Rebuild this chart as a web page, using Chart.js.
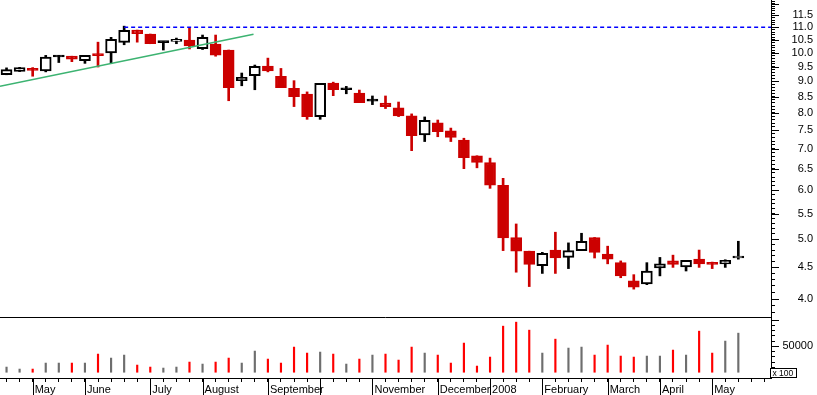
<!DOCTYPE html>
<html>
<head>
<meta charset="utf-8">
<script src="https://cdn.jsdelivr.net/npm/chart.js@4.4.1/dist/chart.umd.min.js"></script>
<style>
  html, body { margin: 0; padding: 0; background: #fff; }
  #wrap { width: 817px; height: 395px; }
</style>
</head>
<body>
<div id="wrap"><canvas id="stockChart"></canvas></div>
<script>
// weekly candles, April 2007 - May 2008
var opens  = [9.22, 9.34, 9.37, 9.35, 9.85, 9.88, 9.72, 9.90, 10.00, 10.40,
              10.89, 10.73, 10.39, 10.44, 10.49, 10.16, 10.34, 10.11, 9.02, 9.19,
              9.52, 9.17, 8.77, 8.58, 7.89, 8.94, 8.72, 8.61, 8.36, 8.30,
              8.15, 7.91, 7.37, 7.71, 7.48, 7.23, 6.82, 6.65, 6.11, 5.03,
              4.78, 4.53, 4.80, 4.67, 4.79, 5.03, 4.73, 4.58, 4.28, 4.23,
              4.49, 4.61, 4.51, 4.64, 4.58, 4.56, 4.66];
var highs  = [9.46, 9.48, 9.47, 9.91, 9.91, 9.88, 9.91, 10.41, 10.60, 11.05,
              10.89, 10.73, 10.43, 10.57, 10.96, 10.69, 10.69, 10.11, 9.28, 9.56,
              9.81, 9.44, 9.02, 8.65, 8.93, 8.97, 8.83, 8.71, 8.52, 8.52,
              8.33, 7.97, 7.88, 7.79, 7.56, 7.28, 6.82, 6.76, 6.27, 5.29,
              4.78, 4.76, 5.13, 4.93, 5.11, 5.03, 4.87, 4.61, 4.38, 4.58,
              4.67, 4.71, 4.62, 4.80, 4.59, 4.63, 4.96];
var lows   = [9.22, 9.33, 9.17, 9.32, 9.65, 9.68, 9.62, 9.49, 9.62, 10.31,
              10.41, 10.35, 10.11, 10.35, 10.15, 10.13, 9.88, 8.37, 8.85, 8.72,
              9.32, 8.79, 8.19, 7.81, 7.81, 8.53, 8.59, 8.31, 8.25, 8.13,
              7.89, 6.95, 7.19, 7.32, 7.19, 6.50, 6.52, 6.04, 4.79, 4.42,
              4.19, 4.40, 4.40, 4.48, 4.79, 4.66, 4.56, 4.33, 4.15, 4.22,
              4.36, 4.50, 4.44, 4.50, 4.48, 4.50, 4.64];
var closes = [9.40, 9.47, 9.37, 9.85, 9.85, 9.77, 9.91, 9.90, 10.52, 10.88,
              10.74, 10.35, 10.39, 10.52, 10.27, 10.60, 9.92, 8.79, 9.13, 9.51,
              9.35, 8.79, 8.50, 7.89, 8.93, 8.72, 8.72, 8.31, 8.36, 8.19,
              7.91, 7.35, 7.78, 7.46, 7.30, 6.77, 6.65, 6.11, 5.02, 4.78,
              4.55, 4.74, 4.66, 4.79, 4.96, 4.76, 4.64, 4.36, 4.18, 4.44,
              4.56, 4.55, 4.62, 4.56, 4.55, 4.62, 4.67];
// volume in hundreds of shares
var volumes = [10800, 7000, 7000, 18400, 18400, 18400, 18400, 35500, 27900, 33600,
               14600, 10800, 8900, 10800, 20300, 16500, 20300, 27900, 18400, 41200,
               26000, 18400, 48800, 37400, 39300, 35500, 16500, 26000, 33600, 35500,
               24100, 48800, 37400, 33600, 18400, 56400, 12700, 29800, 88600, 96200,
               81000, 37400, 63900, 46900, 48800, 33600, 52600, 31700, 29800, 31700,
               31700, 43100, 33600, 79100, 37400, 60200, 75300];

var slotCount = 59;  // 57 weeks plus two empty weeks at the right
var monthAt    = [2, 6, 11, 15, 20, 24, 28, 33, 37, 41, 46, 50, 54];
var monthNames = ['May', 'June', 'July', 'August', 'September', '', 'November',
                  'December', '2008', 'February', 'March', 'April', 'May'];
var priceLabels = [4.0, 4.5, 5.0, 5.5, 6.0, 6.5, 7.0, 7.5, 8.0, 8.5, 9.0, 9.5, 10.0, 10.5, 11.0, 11.5];
var resistance = 11.0;
var trendStart = {x: -0.5, y: 8.83};
var trendEnd   = {x: 18.9, y: 10.72};

var RED = '#cc0000';
var isDown = closes.map(function (c, i) { return i > 0 && c < closes[i - 1]; });

var slots = [];
for (var i = 0; i < slotCount; i++) slots.push(i);
var priceMinor = [];
for (var p = 38; p <= 121; p++) priceMinor.push(p / 10);
var volMinor = [];
for (var v = 0; v <= 100000; v += 10000) volMinor.push(v);

var axisFont = {family: 'Liberation Sans, Arial, sans-serif', size: 11};

var extraTicks = {
    id: 'extraTicks',
    afterDraw: function (chart) {
        var ctx = chart.ctx;
        var sx = chart.scales.x, sp = chart.scales.price, sv = chart.scales.vol;
        ctx.save();
        ctx.strokeStyle = '#000';
        ctx.lineWidth = 1;
        ctx.beginPath();
        monthAt.forEach(function (m) {
            var px = Math.round(sx.getPixelForValue(m)) + 0.5;
            ctx.moveTo(px, sx.top);
            ctx.lineTo(px, chart.height);
        });
        priceLabels.concat([12.0]).forEach(function (val) {
            var py = Math.round(sp.getPixelForValue(val)) + 0.5;
            ctx.moveTo(sp.left, py);
            ctx.lineTo(sp.left + 8, py);
        });
        [50000, 100000].forEach(function (val) {
            var py = Math.round(sv.getPixelForValue(val)) + 0.5;
            ctx.moveTo(sv.left, py);
            ctx.lineTo(sv.left + 8, py);
        });
        var sep = Math.round(sv.top) + 0.5;
        ctx.moveTo(chart.chartArea.left, sep);
        ctx.lineTo(sv.left, sep);
        ctx.stroke();

        // "x 100" unit box at the volume zero line
        var y0 = Math.round(sv.getPixelForValue(0));
        var bx = Math.round(sv.left) - 0.5;
        ctx.fillStyle = '#fff';
        ctx.fillRect(bx, y0 - 4.5, 26, 9);
        ctx.strokeRect(bx, y0 - 4.5, 26, 9);
        ctx.fillStyle = '#000';
        ctx.font = '8.5px Liberation Sans, Arial, sans-serif';
        ctx.textBaseline = 'middle';
        ctx.fillText('x 100', bx + 2, y0 + 0.5);
        ctx.restore();
    }
};

var ctx = document.getElementById('stockChart').getContext('2d');
var stockChart = new Chart(ctx, {
    type: 'bar',
    data: {
        datasets: [{
            label: 'Body',
            order: 1,
            grouped: false,
            xAxisID: 'x',
            yAxisID: 'price',
            data: opens.map(function (o, i) { return {x: i, y: [o, closes[i]]}; }),
            backgroundColor: closes.map(function (c, i) { return c > opens[i] ? '#fff' : (isDown[i] ? RED : '#000'); }),
            borderColor: isDown.map(function (d) { return d ? RED : '#000'; }),
            borderWidth: 2,
            borderSkipped: false,
            barThickness: 11,
            minBarLength: 2
        }, {
            label: 'Wick',
            order: 2,
            grouped: false,
            xAxisID: 'x',
            yAxisID: 'price',
            data: lows.map(function (l, i) { return {x: i, y: [l, highs[i]]}; }),
            backgroundColor: isDown.map(function (d) { return d ? RED : '#000'; }),
            borderWidth: 0,
            barThickness: 2
        }, {
            label: 'Volume',
            order: 1,
            grouped: false,
            xAxisID: 'x',
            yAxisID: 'vol',
            data: volumes.map(function (q, i) { return {x: i, y: q}; }),
            backgroundColor: isDown.map(function (d) { return d ? '#ff0000' : '#6e6e6e'; }),
            borderWidth: 0,
            barThickness: 1.5
        }, {
            type: 'line',
            label: 'Resistance',
            order: 0,
            xAxisID: 'x',
            yAxisID: 'price',
            data: [{x: 9, y: resistance}, {x: slotCount - 0.5, y: resistance}],
            borderColor: '#0000ff',
            borderWidth: 1.5,
            borderDash: [4, 3],
            pointRadius: 0
        }, {
            type: 'line',
            label: 'Trend',
            order: 0,
            xAxisID: 'x',
            yAxisID: 'price',
            data: [trendStart, trendEnd],
            borderColor: '#3cb371',
            borderWidth: 1.5,
            pointRadius: 0
        }]
    },
    options: {
        responsive: true,
        maintainAspectRatio: false,
        animation: false,
        events: [],
        layout: { padding: {left: 0, top: 0, bottom: 0, right: 4}, autoPadding: false },
        plugins: {
            legend: { display: false },
            tooltip: { enabled: false }
        },
        scales: {
            x: {
                type: 'linear',
                position: 'bottom',
                offset: false,
                min: -0.5,
                max: slotCount - 0.5,
                bounds: 'data',
                afterBuildTicks: function (s) { s.ticks = slots.map(function (t) { return {value: t}; }); },
                afterFit: function (s) { s.height = 17; s.paddingLeft = 0; s.paddingRight = 0; },
                grid: { drawOnChartArea: false, offset: false, tickLength: 4, color: '#000' },
                border: { color: '#000' },
                ticks: {
                    autoSkip: false,
                    maxRotation: 0,
                    align: 'start',
                    labelOffset: 2,
                    padding: 1,
                    color: '#000',
                    font: axisFont,
                    callback: function (val) {
                        var k = monthAt.indexOf(val);
                        return k >= 0 ? monthNames[k] : '';
                    }
                }
            },
            price: {
                type: 'logarithmic',
                position: 'right',
                stack: 'right',
                stackWeight: 317,
                min: 3.741,
                max: 12.18,
                bounds: 'data',
                afterBuildTicks: function (s) { s.ticks = priceMinor.map(function (t) { return {value: t}; }); },
                afterFit: function (s) { s.width = 42; s.paddingTop = 0; s.paddingBottom = 0; },
                grid: { drawOnChartArea: false, tickLength: 4, color: '#000' },
                border: { color: '#000' },
                ticks: {
                    autoSkip: false,
                    crossAlign: 'far',
                    padding: 12,
                    color: '#000',
                    font: axisFont,
                    callback: function (val) {
                        var hit = priceLabels.some(function (l) { return Math.abs(l - val) < 0.001; });
                        return hit ? val.toFixed(1) : '';
                    }
                }
            },
            vol: {
                type: 'linear',
                position: 'right',
                stack: 'right',
                stackWeight: 61,
                min: -10000,
                max: 106000,
                bounds: 'data',
                afterBuildTicks: function (s) { s.ticks = volMinor.map(function (t) { return {value: t}; }); },
                afterFit: function (s) { s.width = 42; s.paddingTop = 0; s.paddingBottom = 0; },
                grid: { drawOnChartArea: false, tickLength: 4, color: '#000' },
                border: { color: '#000' },
                ticks: {
                    autoSkip: false,
                    crossAlign: 'far',
                    padding: 3,
                    color: '#000',
                    font: axisFont,
                    callback: function (val) { return val === 50000 ? '50000' : ''; }
                }
            }
        }
    },
    plugins: [extraTicks]
});
</script>
</body>
</html>
